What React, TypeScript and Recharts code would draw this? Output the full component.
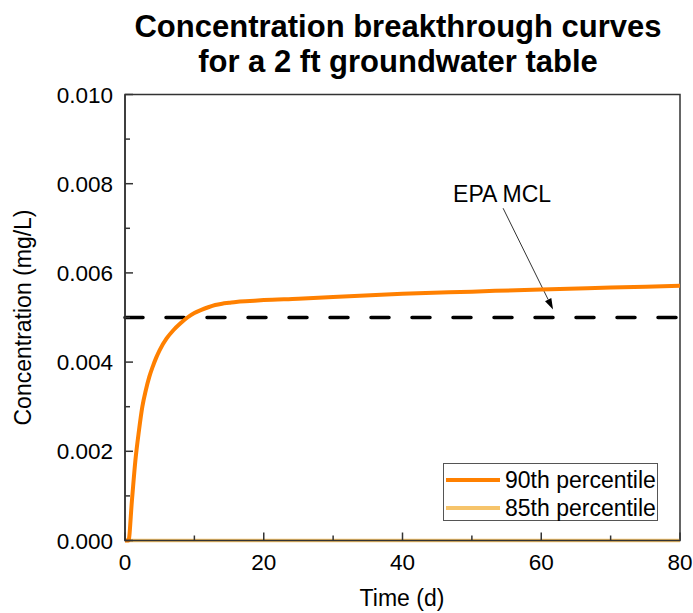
import {
  LineChart,
  Line,
  XAxis,
  YAxis,
  ReferenceLine,
  ReferenceArea,
  Legend,
} from "recharts";

// time (d) and concentration (mg/L)
const times = [0, 0.5, 1, 1.5, 2, 2.5, 3, 3.5, 4, 4.5, 5, 6, 7, 8, 9, 10, 11, 12, 13, 14, 15, 16, 18, 20, 25, 30, 40, 50, 60, 70, 80];
const p90 = [0, 0, 0.0009, 0.0018, 0.00245, 0.003, 0.00337, 0.00367, 0.0039, 0.0041, 0.00427, 0.00453, 0.00472, 0.00487, 0.005, 0.0051, 0.00517, 0.00523, 0.00528, 0.00531, 0.00533, 0.00535, 0.00537, 0.00539, 0.00542, 0.00546, 0.00553, 0.00558, 0.00563, 0.00567, 0.00571];
const p85 = [0, 0, 0, 0, 0, 0, 0, 0, 0, 0, 0, 0, 0, 0, 0, 0, 0, 0, 0, 0, 0, 0, 0, 0, 0, 0, 0, 0, 0, 0, 0];

const xTicks = [0, 10, 20, 30, 40, 50, 60, 70, 80];
const yTicks = [0, 0.001, 0.002, 0.003, 0.004, 0.005, 0.006, 0.007, 0.008, 0.009, 0.01];
const epaMcl = 0.005;
// arrow from the "EPA MCL" note down to the dashed line
const arrowFrom = { x: 54.5, y: 0.00745 };
const arrowTo = { x: 61.7, y: 0.00518 };

const data = times.map((t, i) => ({ t, p90: p90[i], p85: p85[i] }));

const FONT = "'Liberation Sans', Arial, sans-serif";
const AXIS = "#333";
const M = 10; // tick margin, ticks drawn inward by hand

const XTick = (props: any) => {
  const { x, y, payload } = props;
  const axisY = y - M;
  const major = payload.value % 20 === 0;
  return (
    <g>
      <line x1={x} y1={axisY} x2={x} y2={axisY - (major ? 8 : 5)} stroke={AXIS} strokeWidth={1.5} />
      {major && (
        <text x={x} y={axisY + 29} textAnchor="middle" fontSize={22.5} fontFamily={FONT} fill="#000">
          {payload.value}
        </text>
      )}
    </g>
  );
};

const YTick = (props: any) => {
  const { x, y, payload } = props;
  const axisX = x + M;
  const major = Math.round(payload.value * 1000) % 2 === 0;
  return (
    <g>
      <line x1={axisX} y1={y} x2={axisX + (major ? 8 : 5)} y2={y} stroke={AXIS} strokeWidth={1.5} />
      {major && (
        <text x={113} y={y + 8} textAnchor="end" fontSize={22.5} fontFamily={FONT} fill="#000">
          {payload.value.toFixed(3)}
        </text>
      )}
    </g>
  );
};

const Arrow = (props: any) => {
  const { x1, y1, x2, y2 } = props;
  const a = Math.atan2(y2 - y1, x2 - x1);
  const len = 11;
  const w = 3.5;
  const bx = x2 - len * Math.cos(a);
  const by = y2 - len * Math.sin(a);
  const px = -Math.sin(a) * w;
  const py = Math.cos(a) * w;
  return (
    <g>
      <line x1={x1} y1={y1} x2={bx} y2={by} stroke="#333" strokeWidth={1} />
      <polygon points={`${x2},${y2} ${bx + px},${by + py} ${bx - px},${by - py}`} fill="#000" />
      <text x={x1 - 1} y={y1 - 6} textAnchor="middle" fontSize={23} fontFamily={FONT} fill="#000">
        EPA MCL
      </text>
    </g>
  );
};

const renderLegend = (props: any) => {
  // 90th first, as in the original legend
  const payload = [...(props.payload || [])].reverse();
  return (
    <div
      style={{
        width: 215,
        height: 58,
        border: "1px solid #555",
        background: "#fff",
        fontFamily: FONT,
        fontSize: 23,
        boxSizing: "border-box",
        paddingTop: 2,
      }}
    >
      {payload.map((entry: any) => (
        <div key={entry.value} style={{ display: "flex", alignItems: "center", height: 28 }}>
          <span style={{ display: "inline-block", width: 54, height: 4, background: entry.color, marginLeft: 2, marginRight: 5 }} />
          <span style={{ color: "#000" }}>{entry.value}</span>
        </div>
      ))}
    </div>
  );
};

export default function App() {
  return (
    <div style={{ position: "absolute", left: 0, top: 0, width: 693, height: 613, background: "#fff" }}>
      <div
        style={{
          position: "absolute",
          left: 0,
          top: 9,
          width: 796,
          textAlign: "center",
          fontFamily: FONT,
          fontWeight: "bold",
          fontSize: 31,
          lineHeight: "35px",
          color: "#000",
        }}
      >
        Concentration breakthrough curves
        <br />
        for a 2 ft groundwater table
      </div>
      <LineChart
        width={693}
        height={613}
        data={data}
        margin={{ top: 94.5, right: 13, bottom: 0, left: 0 }}
      >
        <XAxis
          dataKey="t"
          type="number"
          domain={[0, 80]}
          ticks={xTicks}
          interval={0}
          height={72.5}
          tickSize={0}
          tickMargin={M}
          tick={<XTick />}
          axisLine={{ stroke: AXIS, strokeWidth: 1.5 }}
          label={() => (
            <text x={402} y={606} textAnchor="middle" fontSize={23} fontFamily={FONT} fill="#000">
              Time (d)
            </text>
          )}
        />
        <YAxis
          type="number"
          domain={[0, 0.01]}
          ticks={yTicks}
          interval={0}
          width={125}
          tickSize={0}
          tickMargin={M}
          tick={<YTick />}
          axisLine={{ stroke: AXIS, strokeWidth: 1.5 }}
          label={() => (
            <text
              x={23}
              y={317.5}
              transform="rotate(-90 23 317.5)"
              textAnchor="middle"
              dominantBaseline="central"
              fontSize={23}
              fontFamily={FONT}
              fill="#000"
            >
              Concentration (mg/L)
            </text>
          )}
        />
        <ReferenceArea x1={0} x2={80} y1={0} y2={0.01} fill="none" stroke={AXIS} strokeWidth={1.5} />
        <ReferenceLine
          y={epaMcl}
          stroke="#000"
          strokeWidth={3.5}
          strokeDasharray="18 23"
          strokeLinecap="round"
        />
        <ReferenceLine segment={[arrowFrom, arrowTo]} shape={<Arrow />} ifOverflow="visible" />
        <Line
          dataKey="p85"
          name="85th percentile"
          stroke="#F6C46B"
          strokeWidth={3.5}
          dot={false}
          type="monotone"
          isAnimationActive={false}
          legendType="line"
        />
        <Line
          dataKey="p90"
          name="90th percentile"
          stroke="#FF8000"
          strokeWidth={4}
          dot={false}
          type="monotone"
          isAnimationActive={false}
          legendType="line"
        />
        <Legend
          layout="vertical"
          verticalAlign="middle"
          align="center"
          content={renderLegend}
          wrapperStyle={{ left: 443, top: 463, width: 215, height: 58 }}
        />
      </LineChart>
    </div>
  );
}
